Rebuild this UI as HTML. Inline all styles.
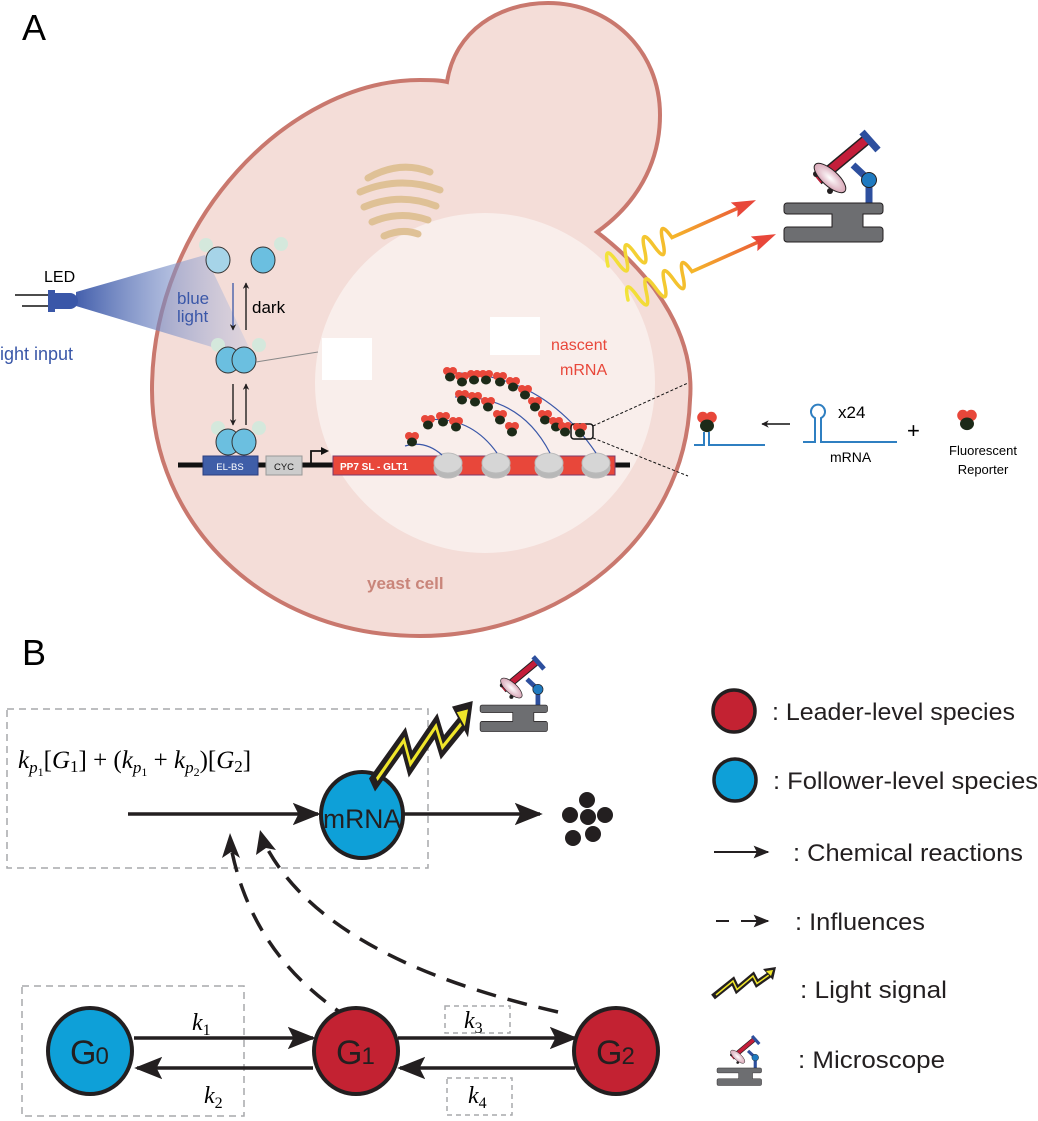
<!DOCTYPE html>
<html><head><meta charset="utf-8"><style>
html,body{margin:0;padding:0;background:#fff;}
svg{display:block;}
text{font-family:"Liberation Sans",sans-serif;}
.ser{font-family:"Liberation Serif",serif;font-style:italic;}
</style></head><body>
<svg width="1038" height="1121" viewBox="0 0 1038 1121" xmlns="http://www.w3.org/2000/svg">
<defs>
<linearGradient id="beam" x1="0" x2="1" y1="0" y2="0">
<stop offset="0" stop-color="#3a57a8" stop-opacity="0.95"/><stop offset="1" stop-color="#b8c4e4" stop-opacity="0.3"/>
</linearGradient>
<linearGradient id="wave" gradientUnits="userSpaceOnUse" x1="0" y1="0" x2="160" y2="0">
<stop offset="0" stop-color="#f2e43a"/><stop offset="0.45" stop-color="#f5b52a"/><stop offset="1" stop-color="#e8473a"/>
</linearGradient>
<radialGradient id="dish"><stop offset="0" stop-color="#fff"/><stop offset="1" stop-color="#d9a8b8"/></radialGradient>
<marker id="ah" viewBox="0 0 10 10" refX="9" refY="5" markerWidth="5" markerHeight="5" orient="auto"><path d="M0,0 L10,5 L0,10 L3,5z" fill="#231f20"/></marker>
<marker id="ahs" viewBox="0 0 10 10" refX="9" refY="5" markerWidth="8" markerHeight="8" orient="auto"><path d="M0,1 L10,5 L0,9 L2,5z" fill="#231f20"/></marker>
<g id="scope">
<path d="M818,180 L866,140" stroke="#231f20" stroke-width="11"/>
<path d="M818,180 L866,140" stroke="#c41e3a" stroke-width="8"/>
<path d="M862,132 L878,150" stroke="#2d4f9e" stroke-width="7"/>
<path d="M853,165 L869,180 L869,204" stroke="#2d4f9e" stroke-width="7" fill="none"/>
<circle cx="869" cy="180" r="7.5" fill="#1f7ac0" stroke="#231f20" stroke-width="1"/>
<circle cx="816" cy="174" r="3" fill="#231f20"/><circle cx="830" cy="191" r="3" fill="#231f20"/>
<ellipse cx="830" cy="178" rx="20" ry="8" transform="rotate(42 830 178)" fill="url(#dish)" stroke="#231f20" stroke-width="1"/>
<path d="M787,203 H880 a3,3 0 0 1 3,3 v5 a3,3 0 0 1 -3,3 H863 v13 H880 a3,3 0 0 1 3,3 v9 a3,3 0 0 1 -3,3 H787 a3,3 0 0 1 -3,-3 v-9 a3,3 0 0 1 3,-3 H832 v-13 H787 a3,3 0 0 1 -3,-3 v-5 a3,3 0 0 1 3,-3z" fill="#6d6e71" stroke="#231f20" stroke-width="1"/>
</g>
<g id="bolt">
<path d="M0,60 L40,28 L48,45 L80,18 L88,33 L118,12" stroke="#231f20" stroke-width="12" fill="none"/>
<path d="M6,56 L40,28 L48,45 L80,18 L88,33 L112,16" stroke="#f0e62a" stroke-width="3" fill="none"/>
<path d="M100,4 L126,0 L120,26 z" fill="#231f20"/>
<path d="M106,8 L120,6 L116,18z" fill="#f0e62a"/>
</g>
<g id="rep"><circle cx="-3" cy="-4" r="4" fill="#e8473a"/><circle cx="3" cy="-4" r="4" fill="#e8473a"/><ellipse cx="0" cy="2" rx="5" ry="4.5" fill="#1c2a18"/></g>
<g id="wv">
<path d="M0,0 q5,-24 10,0 t10,0 t10,0 t10,0 t10,0 t10,0 t10,0 L142,0" fill="none" stroke="url(#wave)" stroke-width="3.5" stroke-linecap="round"/>
<path d="M138,-8 L162,0 L138,8 L142,0z" fill="#e8473a"/>
</g>
</defs>

<!-- Panel A -->
<text x="22" y="40" font-size="36">A</text>
<path d="M597,232 C660,280 695,340 690,400 C685,540 560,636 420,636 C260,636 152,520 152,390 C152,220 290,80 420,80 C430,80 440,80 447,82 C455,30 500,3 548,3 C610,3 660,50 660,115 C660,165 635,205 597,232 Z" fill="#f4ddd8" stroke="#c9786e" stroke-width="4" stroke-linejoin="miter"/>
<circle cx="485" cy="383" r="170" fill="#f9eeeb"/>
<g fill="none" stroke="#dfc196" stroke-width="7" stroke-linecap="round">
<path d="M368,178 Q400,160 430,172"/><path d="M360,192 Q400,175 440,190"/><path d="M364,207 Q400,192 436,206"/><path d="M372,222 Q400,210 428,220"/><path d="M384,236 Q402,228 418,234"/>
</g>
<rect x="322" y="338" width="50" height="42" fill="#fff"/>
<rect x="490" y="317" width="50" height="38" fill="#fff"/>
<polygon points="76,292 76,306 255,360 205,255" fill="url(#beam)"/>
<line x1="15" y1="295" x2="50" y2="295" stroke="#111" stroke-width="1.5"/>
<line x1="22" y1="306" x2="50" y2="306" stroke="#111" stroke-width="1.5"/>
<rect x="48" y="290" width="7" height="22" fill="#3a57a8"/>
<path d="M55,293 h15 a8,8 0 0 1 0,16 h-15z" fill="#3a57a8"/>
<text x="44" y="282" font-size="16">LED</text>
<text x="-4" y="360" font-size="18" fill="#3a57a8">light input</text>
<g stroke="#333" stroke-width="1">
<circle cx="206" cy="245" r="7" fill="#d4e8dc" stroke="none"/><ellipse cx="218" cy="260" rx="12" ry="13" fill="#a6d4e8"/>
<circle cx="281" cy="244" r="7" fill="#d4e8dc" stroke="none"/><ellipse cx="263" cy="260" rx="12" ry="13" fill="#6bbfe0"/>
<circle cx="218" cy="345" r="7" fill="#d4e8dc" stroke="none"/><circle cx="259" cy="345" r="7" fill="#d4e8dc" stroke="none"/>
<ellipse cx="228" cy="360" rx="12" ry="13" fill="#6bbfe0"/><ellipse cx="244" cy="360" rx="12" ry="13" fill="#6bbfe0"/>
<circle cx="218" cy="428" r="7" fill="#d4e8dc" stroke="none"/><circle cx="259" cy="428" r="7" fill="#d4e8dc" stroke="none"/>
<ellipse cx="228" cy="442" rx="12" ry="13" fill="#6bbfe0"/><ellipse cx="244" cy="442" rx="12" ry="13" fill="#6bbfe0"/>
</g>
<line x1="256" y1="362" x2="318" y2="352" stroke="#888" stroke-width="1"/>
<line x1="233" y1="283" x2="233" y2="330" stroke="#3a57a8" stroke-width="1.3" marker-end="url(#ah)"/>
<line x1="246" y1="330" x2="246" y2="283" stroke="#111" stroke-width="1.3" marker-end="url(#ah)"/>
<line x1="233" y1="384" x2="233" y2="425" stroke="#111" stroke-width="1.3" marker-end="url(#ah)"/>
<line x1="246" y1="425" x2="246" y2="384" stroke="#111" stroke-width="1.3" marker-end="url(#ah)"/>
<text x="177" y="304" font-size="17" fill="#3a57a8">blue</text>
<text x="177" y="322" font-size="17" fill="#3a57a8">light</text>
<text x="252" y="313" font-size="17">dark</text>
<line x1="178" y1="465" x2="630" y2="465" stroke="#111" stroke-width="5"/>
<rect x="203" y="456" width="55" height="19" fill="#3f5ea8" stroke="#2b3f80" stroke-width="1"/>
<text x="230" y="470" font-size="9.5" fill="#fff" text-anchor="middle">EL-BS</text>
<rect x="266" y="456" width="36" height="19" fill="#ccc" stroke="#999" stroke-width="1"/>
<text x="284" y="470" font-size="9.5" fill="#111" text-anchor="middle">CYC</text>
<path d="M311,463 V451 H322" stroke="#111" stroke-width="1.8" fill="none"/>
<path d="M321,447 L329,451 L321,455z" fill="#111"/>
<rect x="333" y="456" width="282" height="19" fill="#e8473a" stroke="#7a3a6a" stroke-width="1"/>
<text x="340" y="470" font-size="10" font-weight="bold" fill="#fff">PP7 SL - GLT1</text>
<g fill="#d6d6d6" stroke="#bbb" stroke-width="1">
<ellipse cx="448" cy="468" rx="14" ry="10" fill="#b8b8b8"/><ellipse cx="448" cy="463" rx="14" ry="10"/>
<ellipse cx="496" cy="468" rx="14" ry="10" fill="#b8b8b8"/><ellipse cx="496" cy="463" rx="14" ry="10"/>
<ellipse cx="549" cy="468" rx="14" ry="10" fill="#b8b8b8"/><ellipse cx="549" cy="463" rx="14" ry="10"/>
<ellipse cx="596" cy="468" rx="14" ry="10" fill="#b8b8b8"/><ellipse cx="596" cy="463" rx="14" ry="10"/>
</g>
<g fill="none" stroke="#3a57a8" stroke-width="1.2">
<path d="M405,446 Q425,440 442,455"/>
<path d="M425,420 Q470,415 497,453"/>
<path d="M455,397 Q520,395 550,453"/>
<path d="M445,373 Q540,370 596,453"/>
</g>
<g>
<use href="#rep" x="412" y="440"/><use href="#rep" x="428" y="423"/><use href="#rep" x="443" y="420"/><use href="#rep" x="456" y="425"/>
<use href="#rep" x="462" y="398"/><use href="#rep" x="475" y="400"/><use href="#rep" x="488" y="405"/><use href="#rep" x="500" y="418"/><use href="#rep" x="512" y="430"/>
<use href="#rep" x="450" y="375"/><use href="#rep" x="462" y="380"/><use href="#rep" x="474" y="378"/><use href="#rep" x="486" y="378"/><use href="#rep" x="500" y="380"/><use href="#rep" x="513" y="385"/><use href="#rep" x="525" y="393"/><use href="#rep" x="535" y="405"/><use href="#rep" x="545" y="418"/><use href="#rep" x="556" y="425"/><use href="#rep" x="565" y="430"/>
</g>
<rect x="571" y="424" width="22" height="15" rx="3" fill="none" stroke="#111" stroke-width="1.5"/>
<use href="#rep" x="580" y="431"/>
<line x1="593" y1="426" x2="688" y2="383" stroke="#111" stroke-width="1" stroke-dasharray="3,2"/>
<line x1="593" y1="438" x2="688" y2="476" stroke="#111" stroke-width="1" stroke-dasharray="3,2"/>
<text x="551" y="350" font-size="16" fill="#e8473a">nascent</text>
<text x="560" y="375" font-size="16" fill="#e8473a">mRNA</text>
<text x="367" y="589" font-size="17" font-weight="bold" fill="#c9857a">yeast cell</text>
<g transform="translate(608,266) rotate(-24)"><use href="#wv"/></g>
<g transform="translate(628,300) rotate(-24)"><use href="#wv"/></g>
<use href="#scope"/>
<g fill="none" stroke="#2f7fc1" stroke-width="2">
<path d="M694,445 H704 V432 M709,432 V445 H765"/>
<path d="M803,442 H815 V418 a7,7 0 1 1 6,0 V442 H897"/>
</g>
<g transform="translate(707,423) scale(1.4)"><use href="#rep"/></g>
<g transform="translate(967,421) scale(1.4)"><use href="#rep"/></g>
<line x1="790" y1="424" x2="762" y2="424" stroke="#111" stroke-width="1.5" marker-end="url(#ah)"/>
<text x="838" y="418" font-size="17">x24</text>
<text x="830" y="462" font-size="14">mRNA</text>
<text x="907" y="438" font-size="22">+</text>
<text x="983" y="455" font-size="13" text-anchor="middle">Fluorescent</text>
<text x="983" y="474" font-size="13" text-anchor="middle">Reporter</text>

<!-- Panel B -->
<text x="22" y="665" font-size="36">B</text>
<rect x="7" y="709" width="421" height="159" fill="none" stroke="#a7a9ac" stroke-width="1.5" stroke-dasharray="7,5"/>
<text class="ser" x="18" y="768" font-size="25">k<tspan font-size="17" dy="5">p</tspan><tspan font-size="12" dy="3" font-style="normal">1</tspan><tspan font-style="normal" dy="-8">[</tspan>G<tspan font-style="normal" font-size="17" dy="4">1</tspan><tspan font-style="normal" dy="-4">] + (</tspan>k<tspan font-size="17" dy="5">p</tspan><tspan font-size="12" dy="3" font-style="normal">1</tspan><tspan font-style="normal" dy="-8"> + </tspan>k<tspan font-size="17" dy="5">p</tspan><tspan font-size="12" dy="3" font-style="normal">2</tspan><tspan font-style="normal" dy="-8">)[</tspan>G<tspan font-style="normal" font-size="17" dy="4">2</tspan><tspan font-style="normal" dy="-4">]</tspan></text>
<line x1="128" y1="814" x2="318" y2="814" stroke="#231f20" stroke-width="3.5" marker-end="url(#ahs)"/>
<ellipse cx="362" cy="815" rx="41" ry="43" fill="#0ea0d8" stroke="#231f20" stroke-width="4"/>
<text x="323" y="828" font-size="27" fill="#231f20" textLength="78" lengthAdjust="spacingAndGlyphs">mRNA</text>
<line x1="404" y1="814" x2="540" y2="814" stroke="#231f20" stroke-width="3.5" marker-end="url(#ahs)"/>
<g fill="#231f20"><circle cx="587" cy="800" r="8"/><circle cx="570" cy="815" r="8"/><circle cx="588" cy="817" r="8"/><circle cx="605" cy="815" r="8"/><circle cx="593" cy="834" r="8"/><circle cx="573" cy="838" r="8"/></g>
<g transform="translate(372,701) scale(0.8,1.4)"><use href="#bolt"/></g>
<g transform="translate(-53,567) scale(0.68)"><use href="#scope"/></g>
<path d="M352,1020 Q255,960 232,852" fill="none" stroke="#231f20" stroke-width="3.5" stroke-dasharray="20,12"/>
<path d="M222,858 L230,833 L240,858 L231,852z" fill="#231f20"/>
<path d="M558,1012 Q330,960 268,850" fill="none" stroke="#231f20" stroke-width="3.5" stroke-dasharray="20,12"/>
<path d="M256,855 L260,830 L276,850 L266,848z" fill="#231f20"/>
<rect x="22" y="986" width="222" height="130" fill="none" stroke="#a7a9ac" stroke-width="1.5" stroke-dasharray="7,5"/>
<rect x="445" y="1006" width="65" height="27" fill="none" stroke="#a7a9ac" stroke-width="1.5" stroke-dasharray="5,4"/>
<rect x="447" y="1078" width="65" height="37" fill="none" stroke="#a7a9ac" stroke-width="1.5" stroke-dasharray="5,4"/>
<line x1="134" y1="1038" x2="313" y2="1038" stroke="#231f20" stroke-width="3.5" marker-end="url(#ahs)"/>
<line x1="313" y1="1068" x2="137" y2="1068" stroke="#231f20" stroke-width="3.5" marker-end="url(#ahs)"/>
<line x1="398" y1="1038" x2="575" y2="1038" stroke="#231f20" stroke-width="3.5" marker-end="url(#ahs)"/>
<line x1="575" y1="1068" x2="400" y2="1068" stroke="#231f20" stroke-width="3.5" marker-end="url(#ahs)"/>
<text class="ser" x="192" y="1030" font-size="24">k<tspan font-style="normal" font-size="16" dy="5">1</tspan></text>
<text class="ser" x="204" y="1103" font-size="24">k<tspan font-style="normal" font-size="16" dy="5">2</tspan></text>
<text class="ser" x="464" y="1028" font-size="24">k<tspan font-style="normal" font-size="16" dy="5">3</tspan></text>
<text class="ser" x="468" y="1103" font-size="24">k<tspan font-style="normal" font-size="16" dy="5">4</tspan></text>
<ellipse cx="90" cy="1051" rx="42" ry="43" fill="#0ea0d8" stroke="#231f20" stroke-width="4"/>
<ellipse cx="356" cy="1051" rx="42" ry="43" fill="#c32232" stroke="#231f20" stroke-width="4"/>
<ellipse cx="616" cy="1051" rx="42" ry="43" fill="#c32232" stroke="#231f20" stroke-width="4"/>
<text x="70" y="1064" font-size="34" fill="#231f20" letter-spacing="-1">G<tspan font-size="24">0</tspan></text>
<text x="336" y="1064" font-size="34" fill="#231f20" letter-spacing="-1">G<tspan font-size="24">1</tspan></text>
<text x="596" y="1064" font-size="34" fill="#231f20" letter-spacing="-1">G<tspan font-size="24">2</tspan></text>
<circle cx="734" cy="711" r="21" fill="#c32232" stroke="#231f20" stroke-width="3.5"/>
<circle cx="735" cy="780" r="21" fill="#0ea0d8" stroke="#231f20" stroke-width="3.5"/>
<text x="772" y="720" font-size="24" fill="#231f20" textLength="243" lengthAdjust="spacingAndGlyphs">: Leader-level species</text>
<text x="773" y="789" font-size="24" fill="#231f20" textLength="265" lengthAdjust="spacingAndGlyphs">: Follower-level species</text>
<line x1="714" y1="852" x2="768" y2="852" stroke="#231f20" stroke-width="2" marker-end="url(#ahs)"/>
<text x="793" y="861" font-size="24" fill="#231f20" textLength="230" lengthAdjust="spacingAndGlyphs">: Chemical reactions</text>
<line x1="716" y1="921" x2="729" y2="921" stroke="#231f20" stroke-width="2"/>
<line x1="741" y1="921" x2="768" y2="921" stroke="#231f20" stroke-width="2" marker-end="url(#ahs)"/>
<text x="795" y="930" font-size="24" fill="#231f20" textLength="130" lengthAdjust="spacingAndGlyphs">: Influences</text>
<g transform="translate(713,967) scale(0.5)"><use href="#bolt"/></g>
<text x="800" y="998" font-size="24" fill="#231f20" textLength="147" lengthAdjust="spacingAndGlyphs">: Light signal</text>
<g transform="translate(717,1027) scale(0.45)"><use href="#scope" transform="translate(-784,-112)"/></g>
<text x="798" y="1068" font-size="24" fill="#231f20" textLength="147" lengthAdjust="spacingAndGlyphs">: Microscope</text>
</svg>
</body></html>
